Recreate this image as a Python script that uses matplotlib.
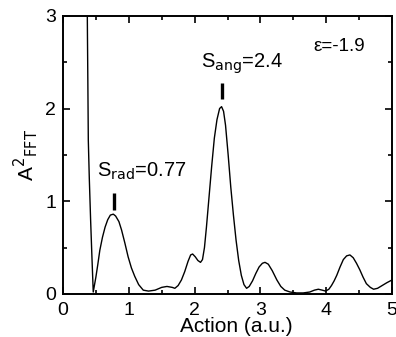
import matplotlib.pyplot as plt
from matplotlib.ticker import MultipleLocator

plt.rcParams['font.family'] = ['Liberation Sans', 'DejaVu Sans']

# spectrum
action = [0.368, 0.372, 0.378, 0.385, 0.40, 0.42, 0.44, 0.46, 0.50, 0.53,
          0.56, 0.60, 0.64, 0.68, 0.72, 0.765, 0.80, 0.85, 0.89, 0.94,
          0.99, 1.04, 1.09, 1.15, 1.22, 1.30, 1.40, 1.50, 1.58, 1.66,
          1.70, 1.75, 1.80, 1.85, 1.90, 1.94, 1.97, 2.01, 2.05, 2.09,
          2.12, 2.15, 2.18, 2.22, 2.26, 2.30, 2.34, 2.38, 2.41, 2.44,
          2.47, 2.51, 2.55, 2.59, 2.63, 2.67, 2.71, 2.75, 2.79, 2.83,
          2.88, 2.93, 2.98, 3.03, 3.07, 3.12, 3.18, 3.25, 3.31, 3.37,
          3.45, 3.55, 3.65, 3.75, 3.82, 3.88, 3.94, 3.99, 4.04, 4.08,
          4.12, 4.16, 4.21, 4.26, 4.31, 4.36, 4.41, 4.46, 4.51, 4.56,
          4.61, 4.67, 4.72, 4.78, 4.85, 4.92, 5.00]
amp = [3.2, 2.8, 2.3, 1.66, 1.25, 0.80, 0.40, 0.02, 0.18, 0.32,
       0.47, 0.61, 0.72, 0.80, 0.85, 0.86, 0.84, 0.78, 0.69, 0.55,
       0.40, 0.28, 0.19, 0.10, 0.04, 0.03, 0.04, 0.07, 0.08, 0.07,
       0.06, 0.09, 0.15, 0.24, 0.35, 0.42, 0.43, 0.40, 0.36, 0.34,
       0.37, 0.50, 0.72, 1.05, 1.38, 1.68, 1.88, 2.00, 2.02, 1.97,
       1.82, 1.50, 1.15, 0.85, 0.58, 0.36, 0.20, 0.10, 0.06, 0.08,
       0.14, 0.22, 0.29, 0.33, 0.34, 0.32, 0.25, 0.15, 0.08, 0.04,
       0.02, 0.01, 0.01, 0.02, 0.04, 0.05, 0.04, 0.03, 0.05, 0.09,
       0.14, 0.20, 0.29, 0.37, 0.41, 0.42, 0.39, 0.33, 0.26, 0.18,
       0.11, 0.07, 0.05, 0.06, 0.09, 0.12, 0.15]

peaks_x = [0.77, 2.41]
peaks_lo = [0.90, 2.10]
peaks_hi = [1.09, 2.28]

fig = plt.figure(figsize=(3.96, 3.37), dpi=100)
ax = fig.add_axes([0.159, 0.128, 0.831, 0.825])

ax.plot(action, amp, color='black', lw=1.0)
ax.vlines(peaks_x, peaks_lo, peaks_hi, color='black', lw=2.4)

ax.text(0.52, 1.26, r'S$_{\mathrm{rad}}$=0.77', fontsize=14.5)
ax.text(2.10, 2.44, r'S$_{\mathrm{ang}}$=2.4', fontsize=14.5)
ax.text(3.80, 2.62, 'ε=-1.9', fontsize=13.5)

ax.set_xlim(0, 5)
ax.set_ylim(0, 3)
ax.xaxis.set_major_locator(MultipleLocator(1))
ax.xaxis.set_minor_locator(MultipleLocator(0.5))
ax.yaxis.set_major_locator(MultipleLocator(1))
ax.yaxis.set_minor_locator(MultipleLocator(0.5))
ax.tick_params(which='both', direction='in', top=True, right=True,
               labelsize=14, width=1.2)
ax.tick_params(which='major', length=5)
ax.tick_params(axis='x', which='major', pad=6)
ax.tick_params(axis='y', which='major', pad=5)
ax.tick_params(which='minor', length=3)
for s in ax.spines.values():
    s.set_linewidth(1.4)

ax.set_xlabel('Action (a.u.)', fontsize=15, labelpad=0)
ax.xaxis.set_label_coords(0.527, -0.085)
ax.set_ylabel(r'A$^2$$_{\mathrm{FFT}}$', fontsize=15, labelpad=4)

fig.savefig('out.png', dpi=100)
